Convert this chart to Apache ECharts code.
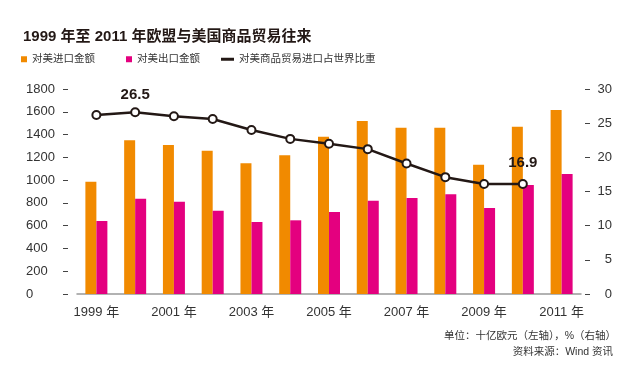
<!DOCTYPE html>
<html>
<head>
<meta charset="utf-8">
<script src="https://cdn.jsdelivr.net/npm/echarts@6/dist/echarts.min.js"></script>
<style>
html,body{margin:0;padding:0;background:#fff;}
#c{width:640px;height:384px;}
</style>
</head>
<body>
<div id="c"></div>
<script>
const categories = ['1999 年','2000 年','2001 年','2002 年','2003 年','2004 年','2005 年','2006 年','2007 年','2008 年','2009 年','2010 年','2011 年'];
const importValues = [985, 1350, 1308, 1258, 1147, 1218, 1381, 1519, 1460, 1460, 1135, 1469, 1615];
const exportValues = [641, 837, 810, 731, 632, 647, 720, 819, 843, 875, 755, 957, 1054];
const shareValues = [26.2, 26.6, 26.0, 25.6, 24.0, 22.7, 22.0, 21.2, 19.1, 17.1, 16.1, 16.1, null];
const shareLabels = ['', '26.5', '', '', '', '', '', '', '', '', '', '16.9', ''];
const leftTicks = [0, 200, 400, 600, 800, 1000, 1200, 1400, 1600, 1800];
const rightTicks = [0, 5, 10, 15, 20, 25, 30];
const seriesNames = ['对美进口金额', '对美出口金额', '对美商品贸易进口占世界比重'];
const titleText = '1999 年至 2011 年欧盟与美国商品贸易往来';
const noteUnit = '单位：十亿欧元（左轴），%（右轴）';
const noteSource = '资料来源：Wind 资讯';

const ORANGE = '#F18A00', PINK = '#E4007F', DARK = '#231815', TXT = '#333333';
const FONT = '"Liberation Sans", "Noto Sans CJK SC", sans-serif';

const chart = echarts.init(document.getElementById('c'), null, {renderer: 'canvas'});

const lineData = shareValues.map((v, i) => {
  if (!shareLabels[i]) return v;
  return {
    value: v,
    label: {
      show: true, position: 'top', formatter: shareLabels[i],
      distance: i === 1 ? 5 : 9,
      fontSize: 15, fontWeight: 'bold', color: DARK, fontFamily: FONT
    }
  };
});

function legendItem(name, left, icon, w, h, color) {
  return {
    data: [{name: name, icon: icon, itemStyle: {color: color, borderWidth: 0}}],
    left: left, top: 54, itemWidth: w, itemHeight: h, itemGap: 0,
    selectedMode: false, padding: 0,
    textStyle: {fontSize: 10.5, color: TXT, fontFamily: FONT, padding: [0, 0, 0, 0]}
  };
}

chart.setOption({
  backgroundColor: '#ffffff',
  animation: false,
  textStyle: {fontFamily: FONT},
  title: {
    text: titleText, left: 18, top: 24,
    textStyle: {fontSize: 15, fontWeight: 'bold', color: DARK, fontFamily: FONT}
  },
  legend: [
    legendItem(seriesNames[0], 21, 'rect', 6, 6, ORANGE),
    legendItem(seriesNames[1], 126, 'rect', 6, 6, PINK),
    legendItem(seriesNames[2], 221, 'rect', 13, 3, DARK)
  ],
  grid: {left: 77, right: 59, top: 89, bottom: 90, containLabel: false},
  xAxis: {
    type: 'category', data: categories,
    axisLine: {show: true, lineStyle: {color: '#999999', width: 1.5}},
    axisTick: {show: false},
    axisLabel: {interval: 1, color: TXT, fontSize: 13, margin: 12, fontFamily: FONT}
  },
  yAxis: [
    {
      type: 'value', min: leftTicks[0], max: leftTicks[leftTicks.length - 1], interval: 200,
      position: 'left', offset: 9,
      axisLine: {show: false},
      axisTick: {show: true, length: 5, lineStyle: {color: '#444', width: 1}},
      splitLine: {show: false},
      axisLabel: {align: 'left', margin: 42, color: TXT, fontSize: 13, fontFamily: FONT,
                  formatter: v => String(v)}
    },
    {
      type: 'value', min: rightTicks[0], max: rightTicks[rightTicks.length - 1], interval: 5,
      position: 'right', offset: 4,
      axisLine: {show: false},
      axisTick: {show: true, length: 5, lineStyle: {color: '#444', width: 1}},
      splitLine: {show: false},
      axisLabel: {align: 'right', margin: 27, color: TXT, fontSize: 13, fontFamily: FONT,
                  formatter: v => String(v)}
    }
  ],
  series: [
    {name: seriesNames[0], type: 'bar', data: importValues, barWidth: 11, barGap: '0%',
     itemStyle: {color: ORANGE}},
    {name: seriesNames[1], type: 'bar', data: exportValues, barWidth: 11, barGap: '0%',
     itemStyle: {color: PINK}},
    {name: seriesNames[2], type: 'line', yAxisIndex: 1, data: lineData,
     symbol: 'circle', symbolSize: 8, showAllSymbol: true,
     lineStyle: {color: DARK, width: 2.5},
     itemStyle: {color: '#ffffff', borderColor: DARK, borderWidth: 2},
     label: {show: false}, z: 5}
  ],
  graphic: [
    {type: 'text', right: 24, top: 331,
     style: {text: noteUnit, fontSize: 10.5, fill: TXT, fontFamily: FONT, textAlign: 'right'}},
    {type: 'text', right: 27, top: 347,
     style: {text: noteSource, fontSize: 10.5, fill: TXT, fontFamily: FONT, textAlign: 'right'}}
  ]
});
</script>
</body>
</html>
